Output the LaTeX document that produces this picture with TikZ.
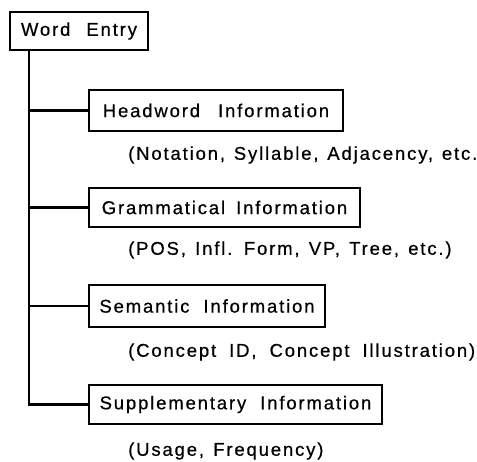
\documentclass[tikz,border=0pt]{standalone}
\usepackage{fontspec}
\setmainfont{Liberation Sans}[LetterSpace=10,FakeBold=0.6]
\newcommand\wsp[1]{\spaceskip=#1\relax}
\begin{document}
\begin{tikzpicture}[x=1pt,y=-1pt,
  box/.style={draw,line width=2.2pt,inner sep=0pt,font=\fontsize{18.5}{22}\selectfont},
  sub/.style={anchor=west,inner sep=0pt,font=\fontsize{18.5}{22}\selectfont},
  conn/.style={line width=2.4pt}]
\useasboundingbox (0,0) rectangle (477,462);
\node[box,minimum width=138pt,minimum height=38pt] (we) at (79,31) {\wsp{16pt}Word Entry};
\node[box,minimum width=254pt,minimum height=41pt] (hw) at (216,110.5) {\wsp{18pt}Headword Information};
\node[box,minimum width=271pt,minimum height=39pt] (gr) at (224.5,207.5) {\wsp{11pt}Grammatical Information};
\node[box,minimum width=236pt,minimum height=42pt] (se) at (207,306) {\wsp{14pt}Semantic Information};
\node[box,minimum width=293pt,minimum height=39pt] (su) at (235.5,404.5) {\wsp{14pt}Supplementary Information};
\node[sub] (hws) at (128,155) {\wsp{8.8pt}(Notation, Syllable, Adjacency, etc.};
\node[sub] (grs) at (128,250) {\wsp{9.2pt}(POS, Infl. Form, VP, Tree, etc.)};
\node[sub] (ses) at (128,352) {\wsp{13pt}(Concept ID, Concept Illustration)};
\node[sub] (sus) at (128,451) {\wsp{9.2pt}(Usage, Frequency)};
\coordinate (top) at ([xshift=20pt]we.south west);
\draw[conn] (top) |- (su.west);
\draw[conn] (top |- hw.west) -- (hw.west);
\draw[conn] (top |- gr.west) -- (gr.west);
\draw[conn] (top |- se.west) -- (se.west);
\end{tikzpicture}
\end{document}
